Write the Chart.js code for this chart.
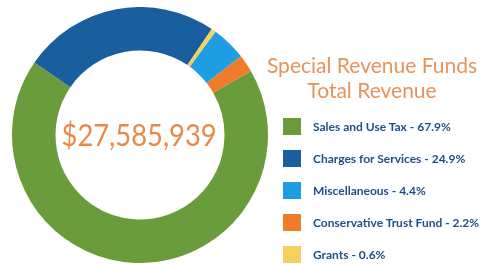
<!DOCTYPE html>
<html>
<head>
<meta charset="utf-8">
<script src="https://cdn.jsdelivr.net/npm/chart.js@4"></script>
<style>
  html, body { margin: 0; padding: 0; background: #fff; }
  #wrap { position: relative; width: 486px; height: 265px; overflow: hidden; }
  #chartBox { position: absolute; left: 12px; top: 7px; width: 256px; height: 256px; }
  #center { position: absolute; left: 139px; top: 134px; font-family: Lato, sans-serif; font-size: 30px; color: #e8894a; white-space: nowrap; transform-origin: center center; line-height: 1; }
  #title { position: absolute; left: 262px; top: 52px; width: 220px; text-align: center; font-family: Lato, sans-serif; font-size: 21px; line-height: 25px; color: #e8935a; }
  .row { position: absolute; left: 283px; height: 18px; display: flex; align-items: center; }
  .sw { width: 18px; height: 17px; margin-right: 12px; }
  .lab { font-family: Lato, sans-serif; font-weight: bold; font-size: 12px; color: #1d4f86; white-space: nowrap; }
</style>
</head>
<body>
<div id="wrap">
  <div id="chartBox"><canvas id="c"></canvas></div>
  <div id="center"></div>
  <div id="title"></div>
  <div id="legend"></div>
</div>
<script>
const categories = ["Sales and Use Tax", "Charges for Services", "Miscellaneous", "Conservative Trust Fund", "Grants"];
const percents = [67.9, 24.9, 4.4, 2.2, 0.6];
const colors = ["#6b9c3b", "#1a5f9d", "#1e9de2", "#ef7b2b", "#f4d060"];
const drawOrder = [0, 1, 4, 2, 3];
const totalLabel = "$27,585,939";
const titleLines = ["Special Revenue Funds", "Total Revenue"];

const labels = drawOrder.map(i => categories[i]);
const values = drawOrder.map(i => percents[i]);
const bg = drawOrder.map(i => colors[i]);

new Chart(document.getElementById('c'), {
  type: 'doughnut',
  data: { labels: labels, datasets: [{ data: values, backgroundColor: bg, borderWidth: 0 }] },
  options: {
    responsive: true, maintainAspectRatio: false, animation: false,
    rotation: 60, cutout: '66%',
    layout: { padding: 0 },
    plugins: { legend: { display: false }, tooltip: { enabled: false } }
  }
});

const center = document.getElementById('center');
center.textContent = totalLabel;
const w = center.offsetWidth, h = center.offsetHeight;
const sx = 155 / w;
center.style.left = (139 - w / 2) + 'px';
center.style.top = (134 - h / 2) + 'px';
center.style.transform = 'scaleX(' + sx + ')';

document.getElementById('title').innerHTML = titleLines.map(t => '<div>' + t + '</div>').join('');

const legend = document.getElementById('legend');
const rowY = [117, 149, 181, 213, 245];
categories.forEach((c, i) => {
  const r = document.createElement('div');
  r.className = 'row';
  r.style.top = rowY[i] + 'px';
  r.innerHTML = '<div class="sw" style="background:' + colors[i] + '"></div><div class="lab">' + c + ' - ' + percents[i] + '%</div>';
  legend.appendChild(r);
});
</script>
</body>
</html>
